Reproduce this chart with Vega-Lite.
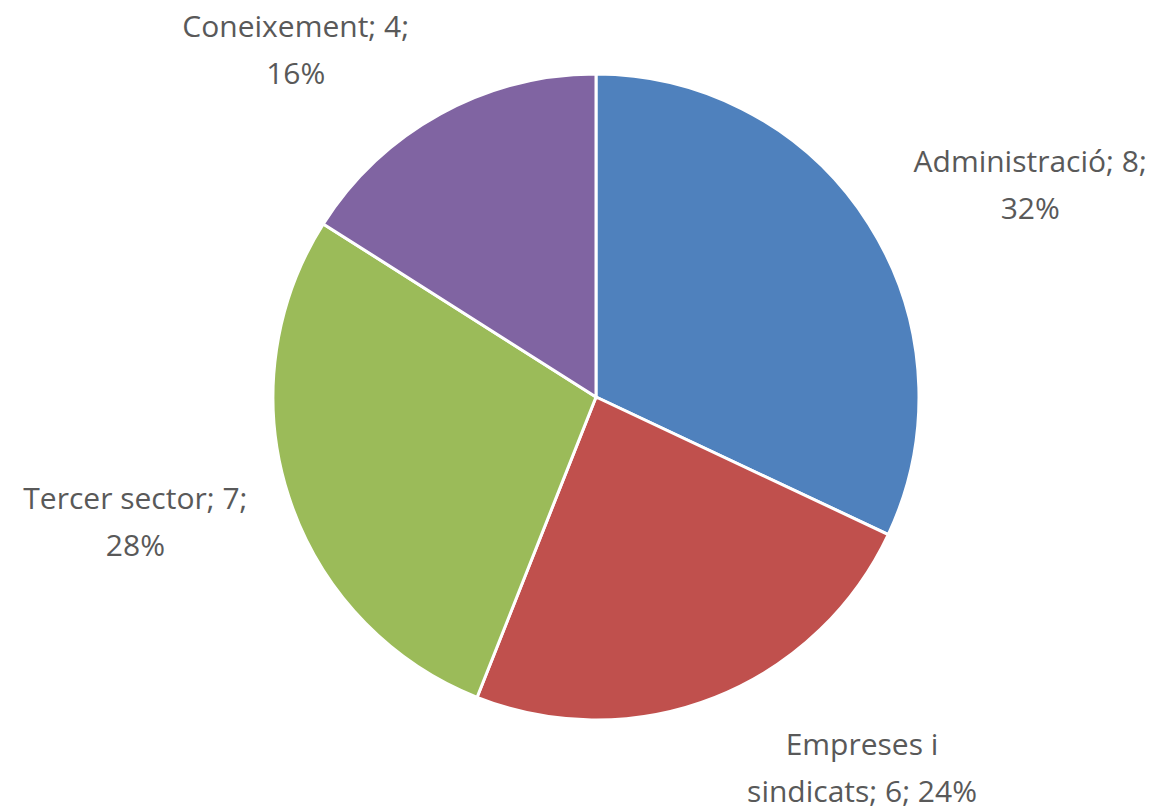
{
  "$schema": "https://vega.github.io/schema/vega-lite/v6.json",
  "width": 1130,
  "height": 794,
  "autosize": {"type": "none"},
  "padding": {"left": 31, "top": 0, "right": 0, "bottom": 12},
  "background": "white",
  "view": {"stroke": null},
  "data": {
    "values": [
      {"cat": "Administració", "n": 8, "ord": 1, "label": "Administració; 8;\n32%"},
      {"cat": "Empreses i sindicats", "n": 6, "ord": 2, "label": "Empreses i\nsindicats; 6;  24%"},
      {"cat": "Tercer sector", "n": 7, "ord": 3, "label": "Tercer sector;  7;\n28%"},
      {"cat": "Coneixement", "n": 4, "ord": 4, "label": "Coneixement; 4;\n16%"}
    ]
  },
  "encoding": {
    "theta": {"field": "n", "type": "quantitative", "stack": true},
    "order": {"field": "ord", "type": "quantitative"}
  },
  "layer": [
    {
      "mark": {"type": "arc", "outerRadius": 323, "stroke": "white", "strokeWidth": 3},
      "encoding": {
        "color": {
          "field": "cat",
          "type": "nominal",
          "scale": {
            "domain": ["Administració", "Empreses i sindicats", "Tercer sector", "Coneixement"],
            "range": ["#4F81BD", "#C0504D", "#9BBB59", "#8064A2"]
          },
          "legend": null
        }
      }
    },
    {
      "mark": {"type": "text", "radius": 493, "thetaOffset": 0.072, "font": "Open Sans", "fontSize": 30, "fill": "#595959", "lineBreak": "\n", "lineHeight": 47, "align": "center", "baseline": "middle"},
      "encoding": {"text": {"condition": {"test": "datum.ord == 1", "field": "label"}, "value": ""}}
    },
    {
      "mark": {"type": "text", "radius": 439, "thetaOffset": -0.274, "font": "Open Sans", "fontSize": 30, "fill": "#595959", "lineBreak": "\n", "lineHeight": 47, "align": "center", "baseline": "middle"},
      "encoding": {"text": {"condition": {"test": "datum.ord == 2", "field": "label"}, "value": ""}}
    },
    {
      "mark": {"type": "text", "radius": 472, "thetaOffset": 0.094, "font": "Open Sans", "fontSize": 30, "fill": "#595959", "lineBreak": "\n", "lineHeight": 47, "align": "center", "baseline": "middle"},
      "encoding": {"text": {"condition": {"test": "datum.ord == 3", "field": "label"}, "value": ""}}
    },
    {
      "mark": {"type": "text", "radius": 476, "thetaOffset": -0.18, "font": "Open Sans", "fontSize": 30, "fill": "#595959", "lineBreak": "\n", "lineHeight": 47, "align": "center", "baseline": "middle"},
      "encoding": {"text": {"condition": {"test": "datum.ord == 4", "field": "label"}, "value": ""}}
    }
  ]
}
